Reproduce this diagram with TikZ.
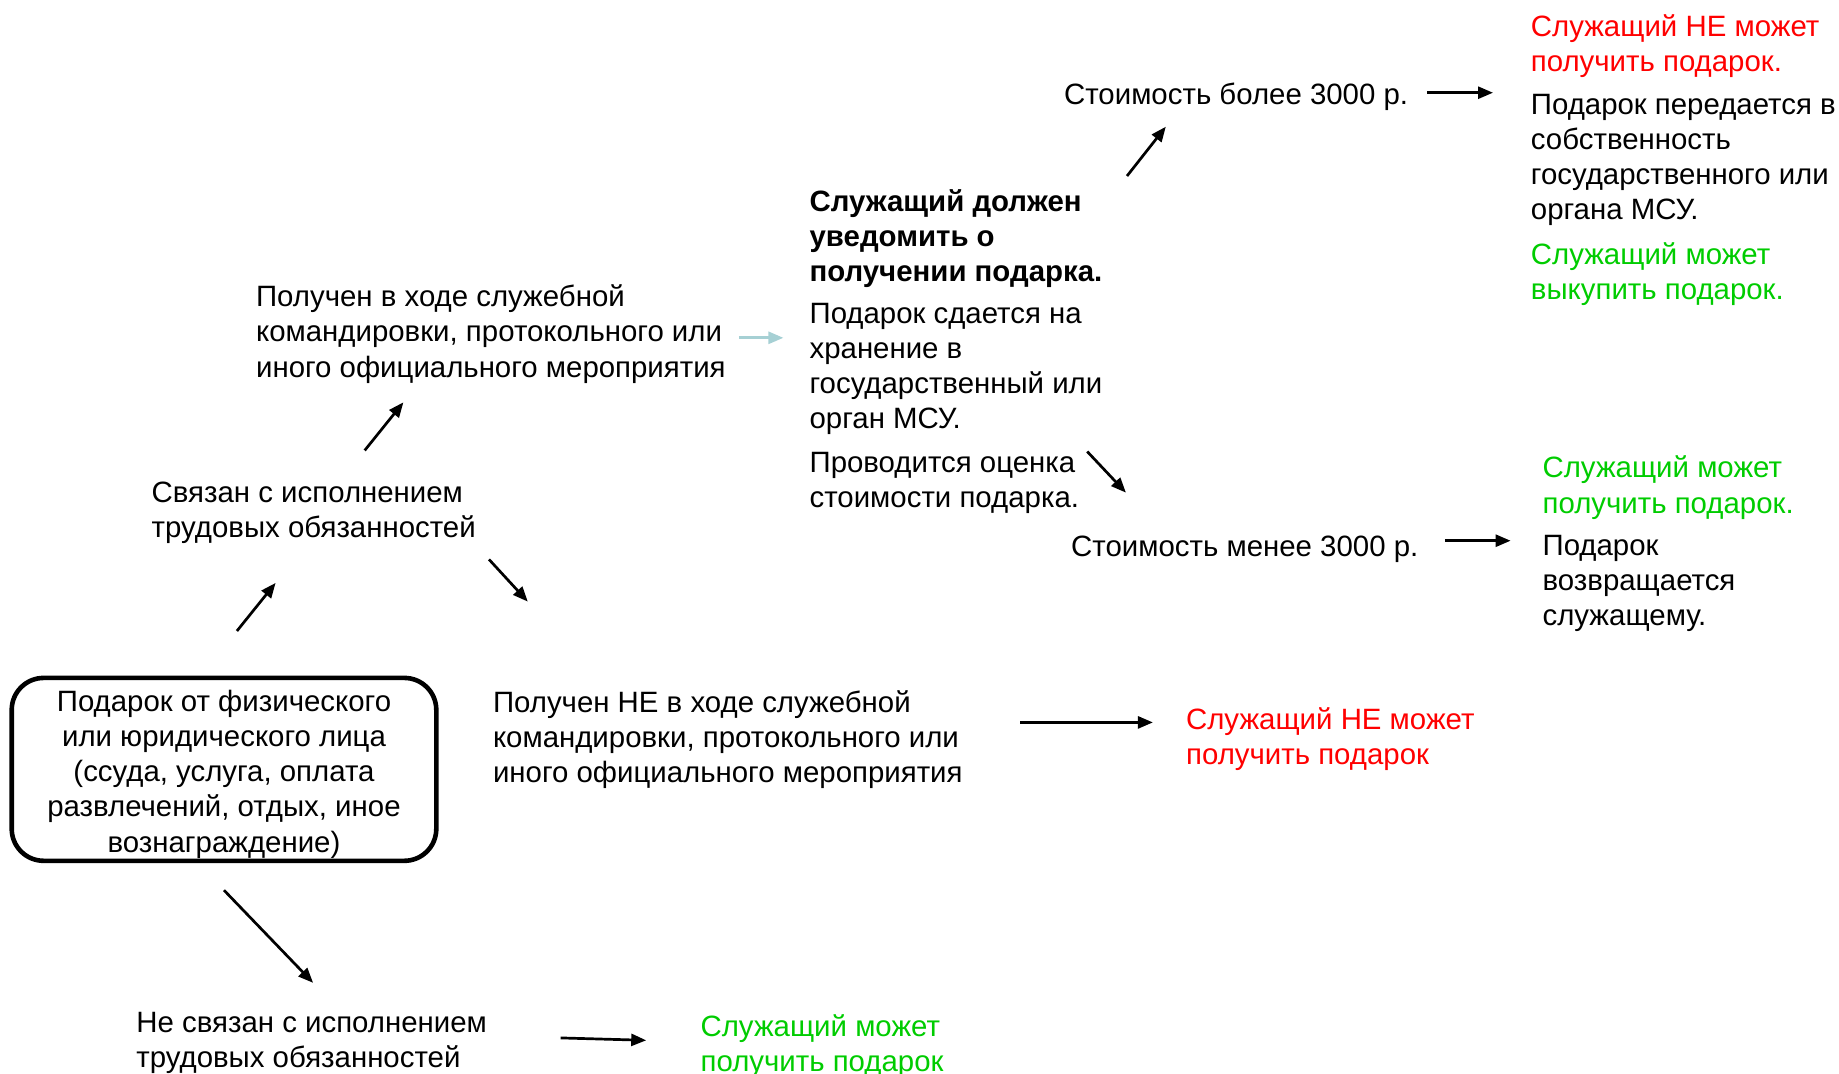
\documentclass[tikz,border=0pt]{standalone}
\usepackage{fontspec}
\setmainfont{Liberation Sans}
\usetikzlibrary{arrows.meta}
\definecolor{myred}{RGB}{255,0,0}
\definecolor{mygreen}{RGB}{0,204,0}
\definecolor{lightarrow}{RGB}{166,208,212}
\begin{document}
\begin{tikzpicture}[x=0.5pt,y=-0.5pt,
  txt/.style={anchor=north west,inner sep=0pt,align=left,font=\fontsize{14.7}{17.6}\selectfont},
  redtxt/.style={txt,text=myred},
  greentxt/.style={txt,text=mygreen},
  boldtxt/.style={txt,font=\fontsize{14.7}{17.6}\selectfont\bfseries},
  arr/.style={line width=1.35pt,-{Triangle[length=7.5pt,width=6pt]}},
  lightarr/.style={arr,draw=lightarrow,-{Triangle[length=7.5pt,width=6pt,fill=lightarrow]}},
  boxborder/.style={draw,line width=2.3pt,rounded corners=16pt},
  boxtxt/.style={align=center,inner sep=0pt,font=\fontsize{14.7}{17.6}\selectfont}]
\useasboundingbox (0,0) rectangle (1839,1073);

% texts
\node[redtxt] (t1) at (1530.5,14) {Служащий НЕ может\\получить подарок.};
\node[txt] (t2) at (1530.5,93.7) {Подарок передается в\\собственность\\государственного или\\органа МСУ.};
\node[greentxt] (t3) at (1530.5,242.2) {Служащий может\\выкупить подарок.};
\node[txt] (more) at (1063.7,83) {Стоимость более 3000 р.};
\node[boldtxt] (notify) at (809.2,189) {Служащий должен\\уведомить о\\получении подарка.};
\node[txt] (store) at (809.2,302.5) {Подарок сдается на\\хранение в\\государственный или\\орган МСУ.};
\node[txt] (eval) at (809.2,451.5) {Проводится оценка\\стоимости подарка.};
\node[txt] (less) at (1070.8,535.5) {Стоимость менее 3000 р.};
\node[greentxt] (t4) at (1542.2,455.6) {Служащий может\\получить подарок.};
\node[txt] (t5) at (1542.2,534.5) {Подарок\\возвращается\\служащему.};
\node[txt] (trip) at (255.7,284.4) {Получен в ходе служебной\\командировки, протокольного или\\иного официального мероприятия};
\node[txt] (linked) at (151.3,481.7) {Связан с исполнением\\трудовых обязанностей};
\coordinate (boxnw) at (11.7,677.9);
\coordinate (boxse) at (436.3,860.8);
\draw[boxborder] (boxnw) rectangle (boxse);
\node[boxtxt] (gift) at (224,774) {Подарок от физического\\или юридического лица\\(ссуда, услуга, оплата\\развлечений, отдых, иное\\вознаграждение)};
\node[txt] (notrip) at (492.6,690) {Получен НЕ в ходе служебной\\командировки, протокольного или\\иного официального мероприятия};
\node[redtxt] (t6) at (1185.7,707.5) {Служащий НЕ может\\получить подарок};
\node[txt] (notlinked) at (136,1011.5) {Не связан с исполнением\\трудовых обязанностей};
\node[greentxt] (t7) at (700.2,1014.5) {Служащий может\\получить подарок};

% arrow end points
\coordinate (a1s) at (1427.3,92.7);  \coordinate (a1e) at (1493,92.7);
\coordinate (a2s) at (1127,176);     \coordinate (a2e) at (1165.8,126.7);
\coordinate (a3s) at (1087.2,451.5); \coordinate (a3e) at (1125.9,492.6);
\coordinate (a4s) at (1444.9,540.7); \coordinate (a4e) at (1510.6,540.7);
\coordinate (a5s) at (738.9,337.8);  \coordinate (a5e) at (783.4,337.8);
\coordinate (a6s) at (364.7,450.4);  \coordinate (a6e) at (403.4,402.3);
\coordinate (a7s) at (489,559.4);    \coordinate (a7e) at (527.8,601.6);
\coordinate (a8s) at (236.9,631);    \coordinate (a8e) at (275.6,582.9);
\coordinate (a9s) at (1020.3,722.4); \coordinate (a9e) at (1152.9,722.4);
\coordinate (a10s) at (224,890.2);   \coordinate (a10e) at (313.1,982.8);
\coordinate (a11s) at (560.6,1037.9); \coordinate (a11e) at (646.2,1040.3);

\draw[arr] (a1s) -- (a1e);
\draw[arr] (a2s) -- (a2e);
\draw[arr] (a3s) -- (a3e);
\draw[arr] (a4s) -- (a4e);
\draw[lightarr] (a5s) -- (a5e);
\draw[arr] (a6s) -- (a6e);
\draw[arr] (a7s) -- (a7e);
\draw[arr] (a8s) -- (a8e);
\draw[arr] (a9s) -- (a9e);
\draw[arr] (a10s) -- (a10e);
\draw[arr] (a11s) -- (a11e);
\end{tikzpicture}
\end{document}
